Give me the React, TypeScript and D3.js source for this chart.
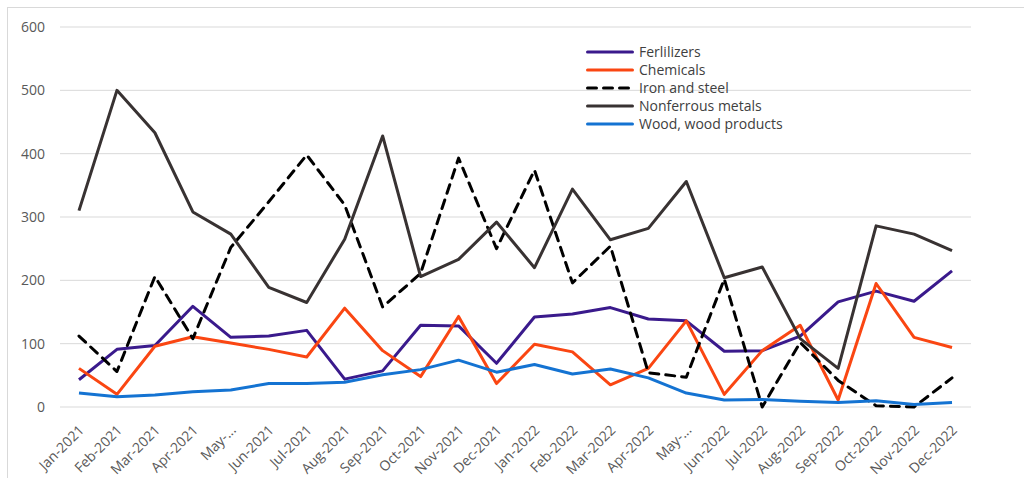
import React from "react";
import * as d3 from "d3";

const months = [
  "Jan-2021", "Feb-2021", "Mar-2021", "Apr-2021", "May-...", "Jun-2021",
  "Jul-2021", "Aug-2021", "Sep-2021", "Oct-2021", "Nov-2021", "Dec-2021",
  "Jan-2022", "Feb-2022", "Mar-2022", "Apr-2022", "May-...", "Jun-2022",
  "Jul-2022", "Aug-2022", "Sep-2022", "Oct-2022", "Nov-2022", "Dec-2022",
];

const fertilizers = [43, 91, 97, 159, 110, 112, 121, 44, 57, 129, 128, 69, 142, 147, 157, 139, 136, 88, 89, 112, 166, 183, 167, 215];
const chemicals = [61, 20, 96, 111, 101, 91, 79, 156, 89, 48, 143, 37, 99, 87, 35, 61, 136, 20, 89, 129, 11, 195, 110, 94];
const ironSteel = [112, 56, 206, 108, 252, 324, 398, 319, 158, 211, 393, 250, 374, 196, 254, 54, 47, 202, 0, 102, 42, 2, 0, 46];
const nonferrous = [310, 500, 433, 308, 273, 189, 165, 265, 428, 206, 233, 292, 220, 344, 264, 282, 356, 204, 221, 108, 61, 286, 273, 247];
const wood = [22, 16, 19, 24, 27, 37, 37, 39, 51, 59, 74, 55, 67, 52, 60, 46, 22, 11, 12, 9, 7, 10, 4, 7];

const yTicks = [0, 100, 200, 300, 400, 500, 600];

const series = [
  { name: "Ferlilizers", values: fertilizers, color: "#3a1a8c", dashed: false },
  { name: "Chemicals", values: chemicals, color: "#fa4612", dashed: false },
  { name: "Iron and steel", values: ironSteel, color: "#000000", dashed: true },
  { name: "Nonferrous metals", values: nonferrous, color: "#383232", dashed: false },
  { name: "Wood, wood products", values: wood, color: "#1473d2", dashed: false },
];

export default function App() {
  const width = 1024;
  const height = 478;
  const font = "'Open Sans', 'Noto Sans', sans-serif";

  const x = d3.scaleBand<string>()
    .domain(months.map((m, i) => i + ""))
    .range([60, 971]);

  const y = d3.scaleLinear()
    .domain([0, 600])
    .range([407, 27]);

  const cx = (i: number) => (x(i + "") as number) + x.bandwidth() / 2;

  const line = d3.line<number>()
    .x((d, i) => cx(i))
    .y(d => y(d));

  return (
    <svg width={width} height={height} style={{ position: "absolute", left: 0, top: 0, background: "#fff" }}>
      {/* frame */}
      <line x1={7} x2={1024} y1={7.5} y2={7.5} stroke="#d9d9d9" strokeWidth={1} />
      <line x1={7.5} x2={7.5} y1={7} y2={478} stroke="#d9d9d9" strokeWidth={1} />

      {yTicks.map(t => (
        <g key={t}>
          <line x1={60} x2={971} y1={y(t)} y2={y(t)} stroke="#d9d9d9" strokeWidth={1} />
          <text x={45} y={y(t)} dy="0.35em" textAnchor="end" fontFamily={font} fontSize={14} fill="#595959">
            {t}
          </text>
        </g>
      ))}

      {months.map((m, i) => (
        <text
          key={i}
          transform={`translate(${cx(i) + 6},${431}) rotate(-45)`}
          textAnchor="end"
          fontFamily={font}
          fontSize={14}
          fill="#595959"
        >
          {m}
        </text>
      ))}

      {series.map(s => (
        <path
          key={s.name}
          d={line(s.values) as string}
          fill="none"
          stroke={s.color}
          strokeWidth={3}
          strokeDasharray={s.dashed ? "9,7" : ""}
          strokeLinecap={s.dashed ? "round" : "butt"}
          strokeLinejoin="round"
        />
      ))}

      {series.map((s, i) => (
        <g key={s.name} transform={`translate(586,${52 + i * 18})`}>
          <line x1={1.5} x2={46.5} y1={0} y2={0} stroke={s.color} strokeWidth={3} strokeLinecap="round"
            strokeDasharray={s.dashed ? "9,7" : ""} />
          <text x={53} y={0} dy="0.35em" fontFamily={font} fontSize={14} fill="#404040">
            {s.name}
          </text>
        </g>
      ))}
    </svg>
  );
}
